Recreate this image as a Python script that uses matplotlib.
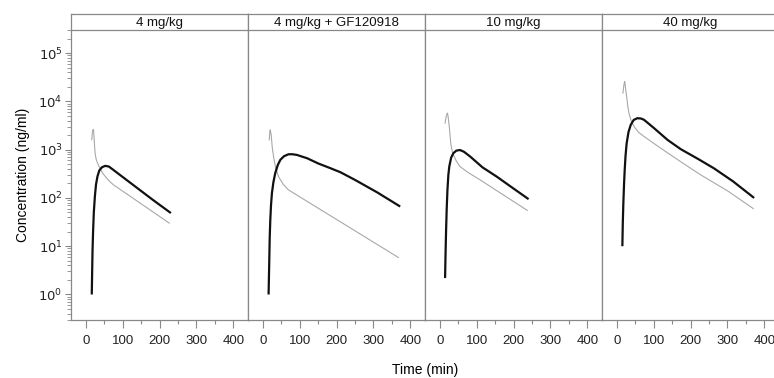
import numpy as np
import matplotlib
matplotlib.use('Agg')
import matplotlib.pyplot as plt
from matplotlib.ticker import LogLocator, FixedLocator, NullFormatter

plt.rcParams['font.family'] = ['Liberation Sans', 'DejaVu Sans']

# Panel titles
panels = ['4 mg/kg', '4 mg/kg + GF120918', '10 mg/kg', '40 mg/kg']

# Thin grey curve
grey_t = [
    [15.5, 16.5, 17.5, 18.8, 19.8, 20.8, 21.5, 23, 24.5, 27, 30, 35, 40, 47, 55, 65, 75, 226],
    [16.9, 17.8, 18.8, 19.6, 20.5, 22, 25, 28.5, 34, 42, 55, 69, 368],
    [13.6, 15, 17, 19, 20, 21.5, 23, 25, 27, 29, 32, 36, 44, 54, 75, 109, 172, 237],
    [16, 17.5, 19, 20.7, 22, 24, 26, 29, 32.3, 38, 46, 58, 73, 120, 173, 227, 300, 370],
]
grey_c = [
    [1600, 2000, 2350, 2600, 2600, 2300, 1900, 1200, 850, 650, 550, 450, 380, 310, 260, 215, 185, 30],
    [1590, 2100, 2500, 2570, 2300, 2000, 1100, 710, 420, 275, 190, 146, 5.8],
    [3530, 4200, 5000, 5600, 5700, 5000, 4000, 3000, 2000, 1350, 1000, 780, 580, 445, 340, 235, 115, 55],
    [14800, 19000, 23000, 25700, 22000, 16000, 12600, 8000, 5650, 4000, 3000, 2300, 1870, 1050, 560, 300, 140, 60],
]

# Thick black curve
black_t = [
    [15.5, 16.5, 17.5, 19, 21, 24, 27, 31, 36, 43, 52, 62, 74, 110, 150, 183, 228],
    [15, 16, 16.8, 18, 19.6, 21.5, 24, 28, 33, 40, 47, 57, 69, 80, 92, 120, 150, 180, 210, 250, 310, 370],
    [13.6, 15, 16.3, 18, 20, 22.5, 25, 30, 36, 44, 54, 65, 82, 115, 154, 195, 238],
    [14.4, 15.5, 17, 19, 20.7, 23, 26, 31, 37, 45, 55, 65, 73, 100, 137, 173, 220, 263, 315, 370],
]
black_c = [
    [1.05, 3, 8, 20, 50, 110, 190, 280, 370, 430, 460, 445, 380, 235, 138, 89, 50],
    [1.05, 2.5, 5, 15, 35, 70, 125, 210, 325, 480, 615, 730, 800, 800, 775, 660, 515, 420, 340, 235, 130, 68],
    [2.3, 8, 21, 60, 146, 300, 445, 680, 840, 950, 980, 900, 715, 430, 275, 165, 97],
    [10.5, 30, 77, 200, 380, 750, 1350, 2300, 3240, 4100, 4470, 4400, 4150, 2800, 1590, 1020, 640, 410, 220, 103],
]

W, H = 774, 378
fig = plt.figure(figsize=(W / 100, H / 100), dpi=100)

frame = '#888888'
left0, pw = 71, 177
top_plot, bot_plot, top_strip = 30, 320, 14

for i, name in enumerate(panels):
    x0 = left0 + i * pw
    ax = fig.add_axes([x0 / W, (H - bot_plot) / H, pw / W, (bot_plot - top_plot) / H])
    ax.plot(grey_t[i], grey_c[i], color='#a8a8a8', lw=0.8)
    ax.plot(black_t[i], black_c[i], color='#111111', lw=1.6)
    ax.set_yscale('log')
    ax.set_xlim(-41, 440)
    ax.set_ylim(0.295, 3.0e5)
    for s in ax.spines.values():
        s.set_color(frame)
        s.set_linewidth(0.9)
    ax.spines['top'].set_visible(False)

    ax.xaxis.set_major_locator(FixedLocator([0, 100, 200, 300, 400]))
    ax.xaxis.set_minor_locator(FixedLocator([50, 150, 250, 350]))
    ax.tick_params(axis='x', which='major', length=6, width=0.8, color=frame,
                   labelsize=9.5, pad=5, labelcolor='#222222')
    ax.tick_params(axis='x', which='minor', length=3, width=0.8, color=frame)

    if i == 0:
        ax.yaxis.set_major_locator(FixedLocator([1, 10, 100, 1e3, 1e4, 1e5]))
        ax.yaxis.set_minor_locator(LogLocator(base=10, subs=np.arange(2, 10), numticks=20))
        ax.yaxis.set_minor_formatter(NullFormatter())
        ax.set_yticklabels([r'$10^{%d}$' % k for k in range(6)])
        ax.tick_params(axis='y', which='major', length=4, width=0.8, color=frame,
                       labelsize=9.5, pad=2, labelcolor='#222222')
        ax.tick_params(axis='y', which='minor', length=3, width=0.6, color=frame)
        ax.set_ylabel('Concentration (ng/ml)', fontsize=10, labelpad=6)
    else:
        ax.tick_params(axis='y', which='both', left=False, labelleft=False)

    # strip on top
    sx = fig.add_axes([x0 / W, (H - top_plot) / H, pw / W, (top_plot - top_strip) / H])
    sx.set_xticks([])
    sx.set_yticks([])
    for s in sx.spines.values():
        s.set_color(frame)
        s.set_linewidth(0.9)
    sx.text(0.5, 0.45, name, transform=sx.transAxes, ha='center', va='center',
            fontsize=9.5, color='#111111')

fig.text(425 / W, (H - 370) / H, 'Time (min)', ha='center', va='center', fontsize=10)

fig.savefig('out.png', dpi=100)
